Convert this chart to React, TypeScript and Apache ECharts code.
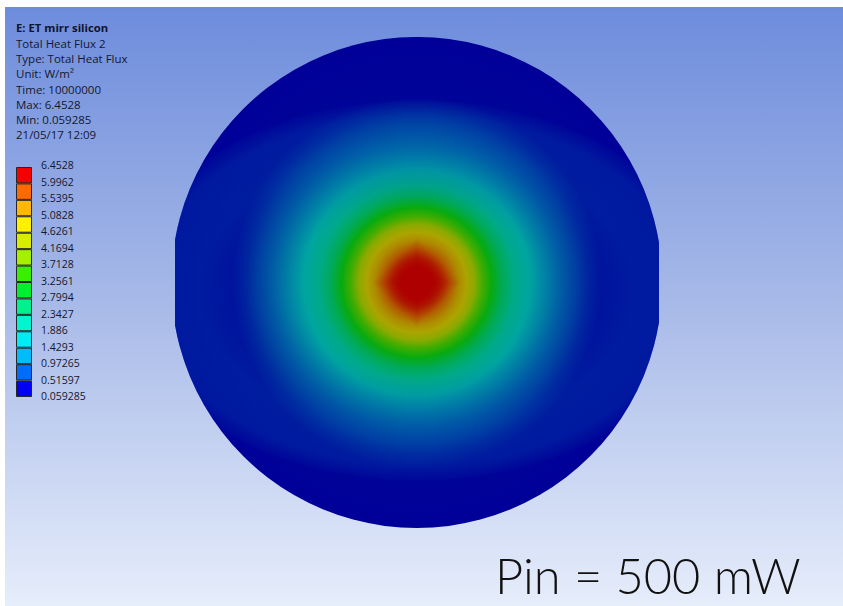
import React, { useEffect, useRef } from "react";
import * as echarts from "echarts";

const infoBold = "E: ET mirr silicon";
const infoLines = ["Total Heat Flux 2", "Type: Total Heat Flux", "Unit: W/m²", "Time: 10000000", "Max: 6.4528", "Min: 0.059285", "21/05/17 12:09"];
const caption = "Pin = 500 mW";

const scaleLabels = ["0.059285", "0.51597", "0.97265", "1.4293", "1.886", "2.3427", "2.7994", "3.2561", "3.7128", "4.1694", "4.6261", "5.0828", "5.5395", "5.9962", "6.4528"];
const scaleColors = ["#0000f5", "#006cfa", "#00bcfa", "#00ecf5", "#00f5cf", "#00f08e", "#00ee30", "#3aee00", "#a4f000", "#d8ec00", "#fff000", "#ffb800", "#ff6a00", "#f40000"];

const discRadius = [245.5];
const profileRadius = [0, 14, 24, 33, 42, 50, 58, 66, 75, 86, 98, 113, 122, 133, 145, 158, 172, 185, 245.5];
const profileColors = ["#b00000", "#b00000", "#ae2400", "#b25a00", "#ae8a00", "#aca400", "#8aaa00", "#42ac00", "#08aa10", "#00aa58", "#00aa88", "#00a4a0", "#0090a4", "#0078a4", "#005ca4", "#0040a0", "#001c9c", "#000498", "#000098"];
const coreRadius = [44, 40, 36, 32, 28, 25, 22, 19, 16];
const coreOpacity = [0.06, 0.08, 0.1, 0.12, 0.14, 0.16, 0.2, 0.25, 0.3];
const sideGlow = [0, -8, 290, 190];
const sideGlowOffset = [0, 0.45, 0.6, 0.75, 0.92, 1];
const sideGlowAlpha = [0, 0, 0.15, 0.33, 0.3, 0.05];

function App() {
  const ref = useRef<HTMLDivElement>(null);
  useEffect(() => {
    document.body.style.margin = "0";
    const chart = echarts.init(ref.current!, undefined, { renderer: "svg" });
    const font = "'Open Sans'";
    const stops = profileRadius.map((r, i) => ({ offset: r / discRadius[0], color: profileColors[i] }));
    const glowStops = sideGlowOffset.map((o, i) => ({ offset: o, color: `rgba(0,80,175,${sideGlowAlpha[i]})` }));
    const infoText = [
      { type: "text", x: 16, y: 22, style: { text: infoBold, font: `bold 11.3px ${font}`, fill: "#10142c" } },
      ...infoLines.map((t, i) => ({ type: "text", x: 16, y: 37.5 + i * 15.2, style: { text: t, font: `11.5px ${font}`, fill: "#14182e" } })),
    ];
    chart.setOption({
      animation: false,
      graphic: [
        {
          type: "rect", z: -10, silent: true, shape: { x: 5, y: 7, width: 838, height: 599 },
          style: { fill: new echarts.graphic.LinearGradient(0, 0, 0, 1, [{ offset: 0, color: "#6d8cdc" }, { offset: 0.5, color: "#a8bae8" }, { offset: 1, color: "#e6edfb" }]) },
        },
        ...infoText,
        { type: "text", x: 495, y: 550, style: { text: caption, font: `300 48.8px Lato`, fill: "#111111" } },
      ],
      grid: [
        { left: 175.5, width: 482.5, top: 37, height: 491 },
        { left: 16, width: 16, top: 167, height: 230 },
        { left: 16, width: 16, top: 165, height: 231 },
      ],
      xAxis: [
        { gridIndex: 0, type: "value", min: -241.25, max: 241.25, show: false },
        { gridIndex: 1, type: "category", data: [""], show: false },
        { gridIndex: 2, type: "value", min: 0, max: 1, show: false },
      ],
      yAxis: [
        { gridIndex: 0, type: "value", min: -245.5, max: 245.5, show: false },
        { gridIndex: 1, type: "value", min: 0, max: 14, show: false },
        {
          gridIndex: 2, type: "value", min: 0, max: 14, interval: 1, position: "right",
          axisLine: { show: false }, axisTick: { show: false }, splitLine: { show: false },
          axisLabel: { margin: 9, align: "left", fontSize: 10.5, fontFamily: "Open Sans", color: "#14182e", formatter: (v: number) => scaleLabels[v] },
        },
      ],
      series: [
        {
          type: "custom", xAxisIndex: 0, yAxisIndex: 0, clip: true, silent: true, data: [[0, 0, discRadius[0]]],
          renderItem: (_: any, api: any) => {
            const c = api.coord([api.value(0), api.value(1)]);
            const r = api.size([api.value(2), 0])[0];
            return { type: "circle", shape: { cx: c[0], cy: c[1], r }, style: { fill: new echarts.graphic.RadialGradient(0.5, 0.5, 0.5, stops) } };
          },
        },
        {
          type: "custom", xAxisIndex: 0, yAxisIndex: 0, clip: true, silent: true, data: [sideGlow],
          renderItem: (_: any, api: any) => {
            const c = api.coord([api.value(0), api.value(1)]);
            const rx = api.size([api.value(2), 0])[0];
            const ry = api.size([0, api.value(3)])[1];
            const o = api.coord([0, 0]);
            const R = api.size([discRadius[0], 0])[0];
            return {
              type: "group",
              clipPath: { type: "circle", shape: { cx: o[0], cy: o[1], r: R } },
              children: [{
                type: "circle", x: c[0], y: c[1], scaleX: 1, scaleY: ry / rx, shape: { cx: 0, cy: 0, r: rx },
                style: { fill: new echarts.graphic.RadialGradient(0.5, 0.5, 0.5, glowStops) },
              }],
            };
          },
        },
        {
          type: "custom", xAxisIndex: 0, yAxisIndex: 0, clip: true, silent: true,
          data: coreRadius.map((r, i) => [r, coreOpacity[i]]),
          renderItem: (_: any, api: any) => {
            const r = api.value(0);
            const pts = [[r, 0], [0, r], [-r, 0], [0, -r]].map((p) => api.coord(p));
            return { type: "polygon", shape: { points: pts }, style: { fill: "#b00000", opacity: api.value(1) } };
          },
        },
        ...scaleColors.map((color) => ({
          type: "bar", xAxisIndex: 1, yAxisIndex: 1, stack: "scale", barWidth: 16, silent: true, data: [1],
          itemStyle: { color, borderColor: "#262626", borderWidth: 1 },
        })),
      ],
    });
    return () => chart.dispose();
  }, []);
  return <div ref={ref} style={{ width: 843, height: 606 }} />;
}

export default App;
